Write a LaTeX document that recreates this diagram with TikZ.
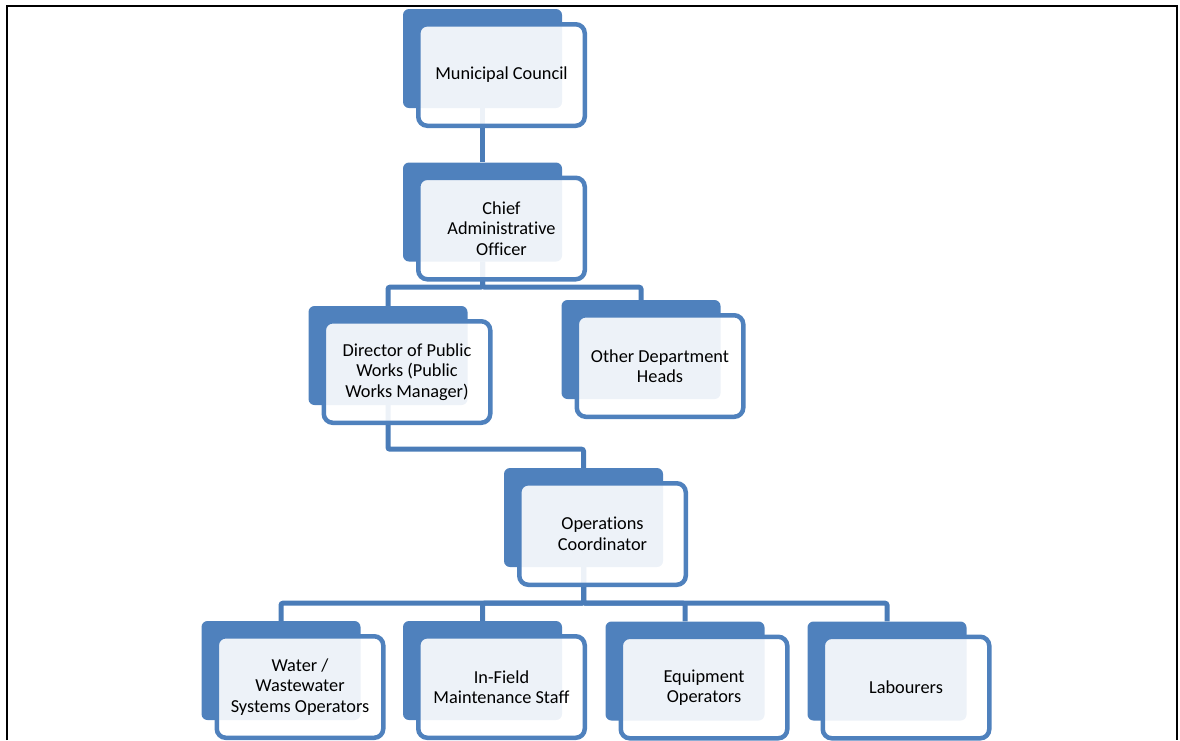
\documentclass[tikz,border=0pt]{standalone}
\usepackage{fontspec}
\setmainfont{Carlito}[Ligatures=NoCommon]
\usetikzlibrary{calc}
\definecolor{accent}{HTML}{4F81BD}
\definecolor{linkcol}{HTML}{4A7CB8}

\begin{document}
\begin{tikzpicture}[x=1pt,y=-1pt,
	back/.style={fill=accent,inner sep=0pt,minimum width=159pt,minimum height=99pt,rounded corners=6pt},
	front/.style={draw=accent,line width=4.5pt,fill=white,fill opacity=0.9,text opacity=1,inner sep=0pt,
		minimum width=166.5pt,minimum height=101.5pt,rounded corners=9pt,align=center,
		font=\fontsize{18.3}{20.5}\selectfont},
	link/.style={draw=linkcol,line width=5pt,rounded corners=2pt}]
	\useasboundingbox (0,0) rectangle (1180,740);
	\draw[line width=2pt] (7,740) -- (7,6) -- (1177,6) -- (1177,740);

	% blue backing boxes
	\draw (482.5,58.5) node (mcb) [back] {};
	\draw (482.5,212) node (caob) [back] {};
	\draw (388,355.5) node (dpwb) [back] {};
	\draw (641,349.5) node (odhb) [back] {};
	\draw (583.5,517.5) node (opcb) [back] {};
	\draw (281,670.5) node (wwob) [back] {};
	\draw (482.5,670.5) node (imsb) [back] {};
	\draw (685,671) node (eqob) [back] {};
	\draw (887,671) node (labb) [back] {};

	% connectors
	\path[link] (mcb.south) -- (caob.north);
	\path[link] (caob.south) -- ++(0,25.5) -| (dpwb.north);
	\path[link] (caob.south) -- ++(0,25.5) -| (odhb.north);
	\path[link] (dpwb.south) -- ++(0,44) -| (opcb.north);
	\path[link] (opcb.south) -- ++(0,36) -| (wwob.north);
	\path[link] (opcb.south) -- ++(0,36) -| (imsb.north);
	\path[link] (opcb.south) -- ++(0,36) -| (eqob.north);
	\path[link] (opcb.south) -- ++(0,36) -| (labb.north);

	% front boxes
	\node (mc) [front] at ($(mcb)+(19,16.5)$) {Municipal Council};
	\node (cao) [front] at ($(caob)+(19,16.5)$) {Chief\\Administrative\\Officer};
	\node (dpw) [front] at ($(dpwb)+(19,16.5)$) {Director of Public\\Works (Public\\Works Manager)};
	\node (odh) [front] at ($(odhb)+(19,16.5)$) {Other Department\\Heads};
	\node (opc) [front] at ($(opcb)+(19,16.5)$) {Operations\\Coordinator};
	\node (wwo) [front] at ($(wwob)+(19,16.5)$) {Water /\\Wastewater\\Systems Operators};
	\node (ims) [front] at ($(imsb)+(19,16.5)$) {In-Field\\Maintenance Staff};
	\node (eqo) [front] at ($(eqob)+(19,16.5)$) {Equipment\\Operators};
	\node (lab) [front] at ($(labb)+(19,16.5)$) {Labourers};
\end{tikzpicture}
\end{document}
